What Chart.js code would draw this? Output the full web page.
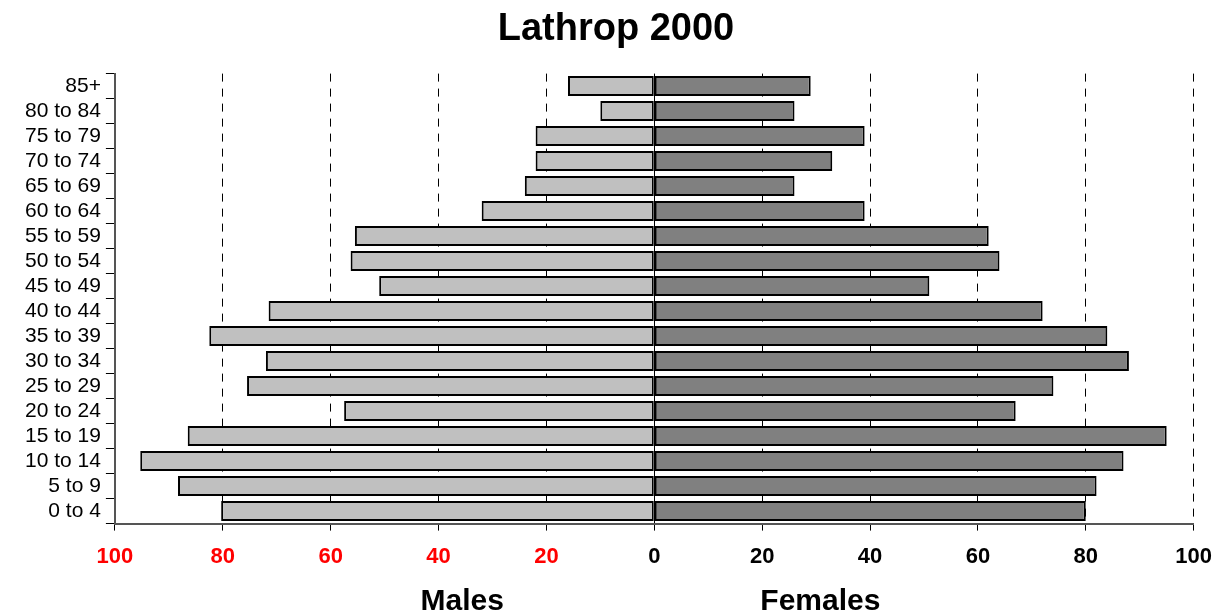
<!DOCTYPE html>
<html lang="en">

<head>
    <meta charset="UTF-8">
    <title>Lathrop 2000</title>
    <script src="https://cdn.jsdelivr.net/npm/chart.js"></script>
    <style>
        body {
            margin: 0;
            background: #fff;
        }

        #wrap {
            width: 1225px;
            height: 614px;
        }
    </style>
</head>

<body>
    <div id="wrap"><canvas id="pyramid"></canvas></div>

    <script>
        const ageGroups = ['85+', '80 to 84', '75 to 79', '70 to 74', '65 to 69', '60 to 64', '55 to 59',
            '50 to 54', '45 to 49', '40 to 44', '35 to 39', '30 to 34', '25 to 29', '20 to 24',
            '15 to 19', '10 to 14', '5 to 9', '0 to 4'];
        const males = [16, 10, 22, 22, 24, 32, 55.5, 56.3, 51, 71.5, 82.5, 72, 75.5, 57.5, 86.5, 95.3, 88.3, 80.3];
        const females = [29, 26, 39, 33, 26, 39, 62, 64, 51, 72, 84, 88, 74, 67, 95, 87, 82, 80];
        const xTicks = [-100, -80, -60, -40, -20, 0, 20, 40, 60, 80, 100];

        // bottom labels under each half
        const sideLabels = {
            id: 'sideLabels',
            afterDraw(chart) {
                const { ctx, chartArea, scales } = chart;
                ctx.save();
                ctx.font = 'bold 30px "Liberation Sans", Arial, sans-serif';
                ctx.fillStyle = '#000';
                ctx.textAlign = 'center';
                ctx.textBaseline = 'middle';
                ctx.fillText('Males', scales.x.getPixelForValue(-35.6), chartArea.bottom + 78);
                ctx.fillText('Females', scales.x.getPixelForValue(30.8), chartArea.bottom + 78);
                ctx.restore();
            }
        };

        new Chart(document.getElementById('pyramid'), {
            type: 'bar',
            data: {
                labels: ageGroups,
                datasets: [
                    {
                        label: 'Males',
                        data: males.map(v => -v),
                        backgroundColor: '#c0c0c0',
                        borderColor: '#000',
                        borderWidth: 2,
                        borderSkipped: false,
                        barPercentage: 0.8,
                        categoryPercentage: 1.0
                    },
                    {
                        label: 'Females',
                        data: females,
                        backgroundColor: '#808080',
                        borderColor: '#000',
                        borderWidth: 2,
                        borderSkipped: false,
                        barPercentage: 0.8,
                        categoryPercentage: 1.0
                    }
                ]
            },
            options: {
                indexAxis: 'y',
                responsive: true,
                maintainAspectRatio: false,
                animation: false,
                layout: { padding: { left: 20, right: 13, top: 4, bottom: 31 } },
                plugins: {
                    legend: { display: false },
                    tooltip: { enabled: false },
                    title: {
                        display: true,
                        text: 'Lathrop 2000',
                        color: '#000',
                        font: { family: '"Liberation Sans", Arial, sans-serif', size: 38, weight: 'bold' },
                        padding: { top: 3, bottom: 21 }
                    }
                },
                scales: {
                    x: {
                        stacked: true,
                        min: -100,
                        max: 100,
                        afterBuildTicks: (axis) => { axis.ticks = xTicks.map(v => ({ value: v })); },
                        ticks: {
                            padding: 13,
                            color: (c) => c.tick && c.tick.value < 0 ? '#ff0000' : '#000',
                            font: { family: '"Liberation Sans", Arial, sans-serif', size: 22, weight: 'bold' },
                            callback: (value) => Math.abs(value)
                        },
                        grid: {
                            color: (c) => c.tick && c.tick.value === -100 ? 'rgba(0,0,0,0)' : '#000',
                            lineWidth: 1,
                            drawTicks: true,
                            tickLength: 7,
                            tickColor: '#000'
                        },
                        border: {
                            display: true,
                            color: '#555',
                            width: 2,
                            dash: (c) => c.tick && c.tick.value !== 0 ? [8, 7] : []
                        }
                    },
                    y: {
                        stacked: true,
                        ticks: {
                            autoSkip: false,
                            padding: 5,
                            color: '#000',
                            font: { family: '"Liberation Sans", Arial, sans-serif', size: 21 }
                        },
                        grid: {
                            offset: true,
                            drawOnChartArea: false,
                            drawTicks: true,
                            tickLength: 9,
                            tickColor: '#000'
                        },
                        border: { display: true, color: '#555', width: 2 }
                    }
                }
            },
            plugins: [sideLabels]
        });
    </script>
</body>

</html>
